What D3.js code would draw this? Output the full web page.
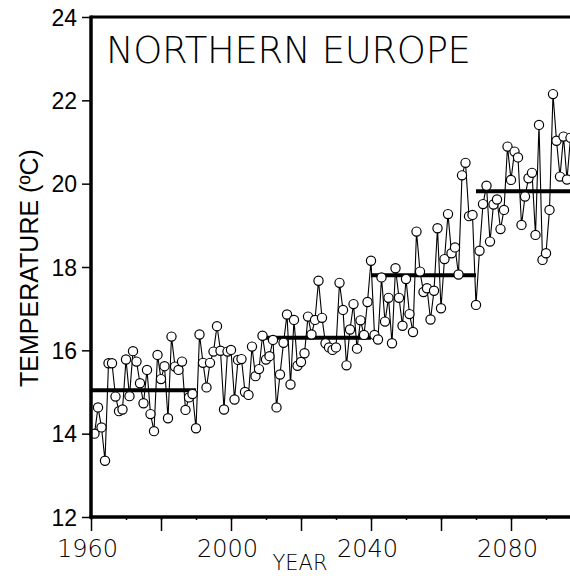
<!DOCTYPE html>
<html>
<head>
<meta charset="utf-8">
<script src="https://cdn.jsdelivr.net/npm/d3@7"></script>
<style>
  html, body { margin: 0; padding: 0; background: #fff; }
  svg { display: block; }
  .thin { font-family: "DejaVu Sans", "Inter", sans-serif; font-weight: 200; }
  .narrow { font-family: "Liberation Sans Narrow", "Liberation Sans", sans-serif; }
</style>
</head>
<body>
<svg id="chart" width="570" height="576"></svg>
<script>
// Annual mean temperature, Northern Europe, 1961 onward
const startYear = 1961;
const temps = [
  14.00, 14.63, 14.15, 13.35, 15.69, 15.69, 14.89, 14.54, 14.58, 15.78,
  14.90, 15.98, 15.73, 15.21, 14.73, 15.53, 14.47, 14.06, 15.89, 15.31,
  15.62, 14.37, 16.33, 15.61, 15.53, 15.73, 14.57, 14.87, 14.95, 14.13,
  16.38, 15.70, 15.11, 15.70, 15.97, 16.58, 15.99, 14.58, 15.97, 16.01,
  14.82, 15.77, 15.79, 15.00, 14.93, 16.09, 15.38, 15.55, 16.35, 15.78,
  15.86, 16.25, 14.63, 15.42, 16.18, 16.86, 15.18, 16.73, 15.63, 15.72,
  15.93, 16.81, 16.38, 16.73, 17.67, 16.78, 16.17, 16.07, 16.01, 16.07,
  17.62, 16.97, 15.64, 16.50, 17.11, 16.04, 16.72, 16.37, 17.16, 18.15,
  16.37, 16.26, 17.75, 16.69, 17.26, 16.17, 17.97, 17.26, 16.59, 17.71,
  16.87, 16.44, 18.85, 17.89, 17.40, 17.49, 16.74, 17.43, 18.93, 17.01,
  18.19, 19.27, 18.33, 18.47, 17.82, 20.20, 20.50, 19.22, 19.25, 17.09,
  18.39, 19.51, 19.95, 18.61, 19.50, 19.62, 18.91, 19.37, 20.89, 20.09,
  20.77, 20.63, 19.01, 19.69, 20.13, 20.26, 18.77, 21.41, 18.17, 18.33,
  19.37, 22.15, 21.03, 20.17, 21.13, 20.10, 21.10
];
const years = temps.map((_, i) => startYear + i);

// Thirty-year period means
const periodStart = [1961, 2011, 2041, 2071];
const periodEnd   = [1990, 2040, 2070, 2100];
const periodMean  = [15.04, 16.30, 17.80, 19.82];

const yTicks = [12, 14, 16, 18, 20, 22, 24];
const xMinorTicks = d3.range(1960, 2101, 10);
const xMajorTicks = d3.range(1960, 2101, 20);
const xLabelTicks = [1960, 2000, 2040, 2080];

const svg = d3.select("#chart");
const x = d3.scaleLinear().domain([1960, 2100]).range([91, 581]);
const y = d3.scaleLinear().domain([12, 24]).range([517, 17]);

// Series line
const line = d3.line().x((d, i) => x(years[i])).y(d => y(d));
svg.append("path")
  .datum(temps)
  .attr("d", line)
  .attr("fill", "none")
  .attr("stroke", "#000")
  .attr("stroke-width", 1.1);

// Period means
svg.append("g").selectAll("line")
  .data(periodMean)
  .join("line")
  .attr("x1", (d, i) => x(periodStart[i] - 1))
  .attr("x2", (d, i) => x(periodEnd[i]))
  .attr("y1", d => y(d)).attr("y2", d => y(d))
  .attr("stroke", "#000").attr("stroke-width", 4);

// Annual markers
svg.append("g").selectAll("circle")
  .data(temps)
  .join("circle")
  .attr("cx", (d, i) => x(years[i]))
  .attr("cy", d => y(d))
  .attr("r", 4.6)
  .attr("fill", "#fff")
  .attr("stroke", "#000")
  .attr("stroke-width", 1.2);

// Frame: top border
svg.append("line")
  .attr("x1", x(1960)).attr("x2", x(2100))
  .attr("y1", y(24)).attr("y2", y(24))
  .attr("stroke", "#000").attr("stroke-width", 3);

// Y axis
const yAxis = svg.append("g")
  .attr("transform", `translate(${x(1960)},0)`)
  .call(d3.axisLeft(y).tickValues(yTicks).tickSize(9).tickPadding(5).tickFormat(d3.format("d")));
yAxis.select(".domain").attr("stroke-width", 3.5).attr("d", `M0,${y(24) - 1.5}V${y(12) + 1.5}`);
yAxis.selectAll(".tick line").attr("stroke-width", 1.5);
yAxis.selectAll(".tick text")
  .attr("class", "narrow")
  .attr("font-size", 23)
  .attr("fill", "#000")
  .attr("dy", "0.36em");

// X axis: minor ticks
const xMinor = svg.append("g")
  .attr("transform", `translate(0,${y(12)})`)
  .call(d3.axisBottom(x).tickValues(xMinorTicks).tickSize(3).tickFormat(""));
xMinor.select(".domain").remove();
xMinor.selectAll(".tick line").attr("stroke-width", 1.5);

// X axis: major ticks with labels
const xAxis = svg.append("g")
  .attr("transform", `translate(0,${y(12)})`)
  .call(d3.axisBottom(x).tickValues(xMajorTicks).tickSize(14).tickPadding(9)
    .tickFormat(d => xLabelTicks.includes(d) ? String(d) : ""));
xAxis.select(".domain").attr("stroke-width", 3.5).attr("d", `M${x(1960) - 1.5},0H${x(2100)}`);
xAxis.selectAll(".tick line").attr("stroke-width", 1.5);
xAxis.selectAll(".tick text")
  .attr("class", "thin")
  .attr("font-size", 24)
  .attr("fill", "#000")
  .attr("dx", -4);

// Axis titles
svg.append("text")
  .attr("class", "thin")
  .attr("x", 300).attr("y", 570)
  .attr("text-anchor", "middle")
  .attr("font-size", 21)
  .text("YEAR");

svg.append("text")
  .attr("font-family", "Liberation Sans, Arial, sans-serif")
  .attr("font-size", 25)
  .attr("text-anchor", "middle")
  .attr("transform", "translate(38,268) rotate(-90)")
  .text("TEMPERATURE (ºC)");

// Panel title
svg.append("text")
  .attr("class", "thin")
  .attr("x", 106).attr("y", 63)
  .attr("font-size", 37)
  .attr("textLength", 365)
  .attr("lengthAdjust", "spacing")
  .text("NORTHERN  EUROPE");
</script>
</body>
</html>
